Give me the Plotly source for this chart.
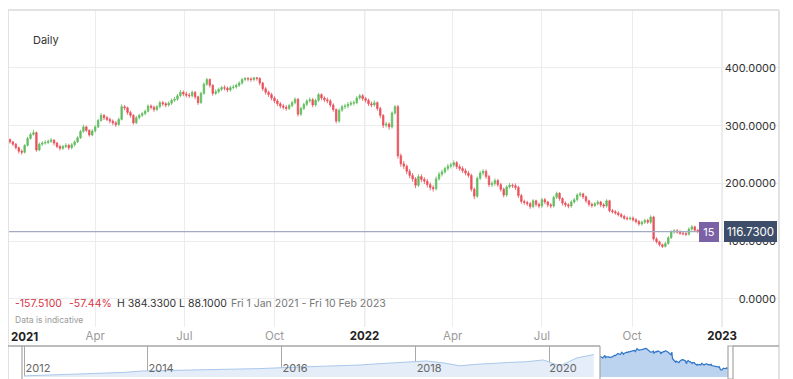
import pandas as pd
import plotly.graph_objects as go

FONT = "Inter"

# ---------------- data ----------------
first_open = 274.24
close = [
    276, 272, 268, 262, 256, 254, 266, 278, 285, 288,
    258, 268, 270, 271, 273, 275, 270, 264, 261, 264,
    266, 262, 267, 272, 279, 290, 298, 292, 284, 291,
    298, 309, 318, 314, 311, 308, 305, 302, 311, 333,
    331, 323, 318, 305, 314, 318, 321, 325, 334, 332,
    328, 333, 340, 338, 336, 339, 344, 346, 352, 358,
    355, 353, 352, 358, 350, 340, 356, 372, 380, 370,
    356, 359, 363, 366, 365, 362, 366, 367, 370, 374,
    380, 382, 381, 380, 383, 382, 374, 364, 358, 354,
    348, 343, 338, 334, 332, 330, 335, 340, 346, 320,
    330, 337, 343, 345, 336, 344, 354, 348, 345, 343,
    336, 328, 308, 327, 333, 334, 337, 339, 340, 348,
    352, 347, 344, 338, 336, 340, 330, 318, 301, 303,
    298, 322, 333, 248, 234, 230, 221, 214, 208, 197,
    212, 207, 204, 198, 193, 191, 208, 216, 220, 226,
    230, 232, 236, 229, 226, 222, 218, 214, 190, 178,
    209, 218, 221, 212, 198, 200, 205, 198, 190, 180,
    194, 197, 196, 193, 179, 169, 167, 165, 160, 170,
    164, 161, 172, 168, 163, 161, 176, 183, 174, 166,
    163, 161, 168, 172, 180, 182, 177, 170, 164, 162,
    165, 168, 163, 161, 170, 153, 151, 149, 146, 143,
    140, 139, 140, 137, 134, 130, 133, 136, 133, 142,
    104, 99, 94, 91, 96, 106, 116, 118, 116, 114,
    113, 112, 121, 125, 119, 116.73,
]
high = [
    279, 278, 274, 270, 264, 259, 268, 281, 288, 293,
    290, 271, 273, 275, 276, 279, 277, 272, 267, 267,
    270, 269, 270, 275, 282, 293, 302, 300, 294, 294,
    301, 312, 322, 320, 317, 314, 311, 308, 314, 337,
    336, 333, 326, 320, 317, 321, 324, 328, 337, 337,
    335, 336, 343, 343, 341, 342, 347, 350, 355, 362,
    361, 359, 357, 361, 360, 352, 359, 375, 383, 382,
    372, 363, 366, 369, 370, 368, 369, 371, 373, 377,
    383, 384.33, 384, 384, 384, 384, 384, 376, 367, 361,
    357, 351, 346, 341, 338, 336, 338, 343, 349, 348,
    333, 340, 346, 349, 348, 347, 357, 356, 351, 349,
    346, 339, 330, 330, 336, 338, 341, 343, 344, 351,
    355, 355, 350, 347, 342, 344, 342, 333, 320, 307,
    306, 325, 336, 336, 252, 239, 233, 225, 218, 211,
    216, 216, 211, 208, 202, 197, 212, 220, 224, 229,
    234, 236, 240, 239, 233, 230, 226, 222, 217, 193,
    212, 222, 225, 224, 215, 204, 209, 208, 201, 193,
    197, 201, 200, 200, 196, 182, 172, 170, 168, 173,
    172, 167, 175, 175, 170, 166, 179, 186, 185, 176,
    169, 166, 171, 175, 183, 185, 184, 179, 172, 167,
    168, 171, 170, 166, 173, 172, 156, 154, 152, 149,
    146, 143, 143, 143, 140, 137, 136, 139, 139, 145,
    144, 107, 101, 96, 99, 109, 119, 121, 121, 119,
    117, 116, 124, 128, 127, 121,
]
low = [
    271, 269, 265, 259, 252, 250, 252, 264, 276, 283,
    255, 256, 265, 267, 268, 270, 266, 261, 257, 258,
    261, 258, 259, 264, 270, 277, 288, 289, 281, 282,
    288, 296, 307, 310, 308, 304, 301, 298, 300, 309,
    327, 319, 314, 302, 303, 311, 315, 318, 323, 328,
    324, 325, 330, 334, 332, 333, 336, 341, 343, 349,
    351, 349, 348, 349, 346, 336, 338, 354, 369, 366,
    352, 353, 356, 360, 361, 358, 359, 363, 364, 367,
    371, 377, 377, 376, 377, 378, 370, 360, 354, 350,
    344, 339, 334, 330, 328, 326, 327, 332, 337, 316,
    317, 327, 334, 340, 332, 333, 341, 344, 341, 339,
    332, 324, 304, 305, 324, 329, 330, 334, 335, 337,
    345, 343, 340, 334, 332, 333, 326, 313, 296, 297,
    293, 295, 319, 243, 229, 225, 216, 209, 203, 192,
    194, 202, 199, 193, 188, 186, 188, 205, 212, 217,
    222, 226, 228, 225, 222, 218, 214, 210, 186, 173,
    175, 206, 214, 208, 194, 194, 196, 194, 186, 176,
    177, 191, 192, 189, 175, 165, 163, 161, 156, 157,
    160, 157, 158, 164, 159, 157, 158, 173, 170, 162,
    159, 157, 158, 165, 169, 177, 173, 166, 160, 158,
    159, 162, 159, 157, 158, 150, 148, 146, 143, 140,
    137, 136, 136, 134, 131, 127, 127, 130, 130, 130,
    101, 96, 91, 88.10, 89, 94, 104, 113, 113, 111,
    110, 109, 110, 118, 116, 114,
]
dates = pd.date_range("2021-01-01", periods=len(close), freq="3D")
opens = [first_open] + close[:-1]

# navigator history (before the selected range)
nav_hist = [15, 22, 30, 38, 48, 55, 62, 80, 84, 88, 90, 94, 100, 108, 112, 121,
            134, 138, 145, 150, 160, 175, 188, 196, 215, 190, 150, 170, 185, 195,
            205, 228, 150, 255, 300]
nav_dates = pd.date_range("2012-03-01", periods=len(nav_hist), freq="3MS")

y_ticks = [0, 100, 200, 300, 400]
x_tick_dates = ["2021-04-01", "2021-07-01", "2021-10-01", "2022-01-01",
                "2022-04-01", "2022-07-01", "2022-10-01", "2023-01-01"]
x_tick_labels = ["Apr", "Jul", "Oct", "2022", "Apr", "Jul", "Oct", "2023"]
nav_tick_dates = ["2012-03-01", "2014-01-01", "2016-01-01", "2018-01-01", "2020-01-01"]
nav_tick_labels = ["2012", "2014", "2016", "2018", "2020"]
period_text = "Fri 1 Jan 2021 - Fri 10 Feb 2023"
countdown_text = "15"

# ---------------- derived stats ----------------
chg = close[-1] - opens[0]
pct = chg / opens[0] * 100
hi = max(high)
lo = min(low)

def fmt_tick(t):
    if t.isdigit():
        return f"<b>{t}</b>"
    return f"<span style='color:#9a9a9a'>{t}</span>"

# page has an 8px body margin; layout expressed in screen pixels
OFF = 8
FW, FH = 793 - OFF, 379 - OFF
W_L, W_R, T, B = 8, 779, 10, 377
def px(x):
    return (x - W_L) / (W_R - W_L)
def py(y):
    return (B - y) / (B - T)

GREEN = "#62bd5f"
RED = "#ea525c"

fig = go.Figure()
fig.add_trace(go.Candlestick(
    x=dates, open=opens, high=high, low=low, close=close,
    increasing=dict(line=dict(color=GREEN, width=0.8), fillcolor=GREEN),
    decreasing=dict(line=dict(color=RED, width=0.8), fillcolor=RED),
    whiskerwidth=0, xaxis="x", yaxis="y", hoverinfo="skip", showlegend=False,
))
fig.add_trace(go.Scatter(
    x=nav_dates, y=nav_hist, mode="lines", fill="tozeroy",
    line=dict(color="#a9c8ec", width=1), fillcolor="#e4edf8",
    xaxis="x2", yaxis="y2", hoverinfo="skip", showlegend=False,
))
fig.add_trace(go.Scatter(
    x=dates, y=close, mode="lines", fill="tozeroy",
    line=dict(color="#2f74c8", width=1.2), fillcolor="#bcd3ef",
    xaxis="x3", yaxis="y2", hoverinfo="skip", showlegend=False,
))

fig.update_layout(
    width=FW, height=FH,
    margin=dict(l=W_L - OFF, r=FW - (W_R - OFF), t=T - OFF, b=FH - (B - OFF), pad=0),
    paper_bgcolor="white", plot_bgcolor="white",
    font=dict(family=FONT, color="#333"),
    showlegend=False,
    xaxis=dict(
        domain=[0, 1], anchor="y", type="date",
        range=["2021-01-02", "2023-02-28"],
        rangeslider=dict(visible=False),
        tickvals=x_tick_dates, ticktext=[fmt_tick(t) for t in x_tick_labels],
        tickfont=dict(size=11.5, color="#222", family=FONT),
        showgrid=True, gridcolor="#ececec", gridwidth=1,
        ticks="", showline=False, zeroline=False,
    ),
    yaxis=dict(
        domain=[py(327), 1], anchor="x", side="right",
        ticklabelposition="inside",
        range=[-48.5, 500.4],
        tickvals=y_ticks, tickformat=".4f",
        tickfont=dict(size=11, color="#333", family=FONT),
        showgrid=True, gridcolor="#ececec", gridwidth=1,
        ticks="", showline=False, zeroline=False,
    ),
    xaxis2=dict(
        domain=[px(22), px(600)], anchor="y2", type="date",
        range=["2012-02-19", "2020-10-05"],
        tickvals=nav_tick_dates, ticktext=nav_tick_labels,
        ticklabelposition="inside", ticklabelshift=14,
        tickfont=dict(size=11, color="#666", family=FONT),
        showgrid=True, gridcolor="#a8a8a8", gridwidth=1,
        ticks="", showline=False, zeroline=False,
    ),
    yaxis2=dict(
        domain=[0, py(346)], anchor="x2", range=[0, 415],
        showgrid=False, showticklabels=False, zeroline=False, ticks="",
    ),
    xaxis3=dict(
        domain=[px(600), px(728)], anchor="y2", type="date",
        range=[dates[0], dates[-1]],
        visible=False,
    ),
)

shapes = []
for d in ["2022-01-01", "2023-01-01"]:
    shapes.append(dict(type="line", xref="x", yref="y domain", x0=d, x1=d, y0=0, y1=1,
                       line=dict(color="#d2d2d2", width=1.2), layer="below"))
shapes.append(dict(type="line", xref="x", yref="y", x0="2021-01-02", x1=dates[-1],
                   y0=close[-1], y1=close[-1], line=dict(color="#a3abc3", width=1.2)))
# frame
FRAME = "#e2e2e2"
shapes.append(dict(type="line", xref="paper", yref="paper", x0=0, x1=0, y0=py(379), y1=1,
                   line=dict(color=FRAME, width=2)))
shapes.append(dict(type="line", xref="paper", yref="paper", x0=0, x1=1, y0=1, y1=1,
                   line=dict(color=FRAME, width=2)))
shapes.append(dict(type="line", xref="paper", yref="paper", x0=1, x1=1, y0=py(379), y1=1,
                   line=dict(color=FRAME, width=2)))
# navigator outline
NAVC = "#a6a6a6"
shapes.append(dict(type="line", xref="paper", yref="paper", x0=0, x1=px(600), y0=py(346), y1=py(346),
                   line=dict(color=NAVC, width=1.5)))
shapes.append(dict(type="line", xref="paper", yref="paper", x0=px(733), x1=1, y0=py(346), y1=py(346),
                   line=dict(color=NAVC, width=1.5)))
shapes.append(dict(type="line", xref="paper", yref="paper", x0=px(600), x1=px(600), y0=py(379), y1=py(346),
                   line=dict(color=NAVC, width=1.2)))
shapes.append(dict(type="rect", xref="paper", yref="paper", x0=px(728), x1=px(733), y0=py(379), y1=py(346),
                   line=dict(color=NAVC, width=1.2), fillcolor="white"))
shapes.append(dict(type="line", xref="paper", yref="paper", x0=px(22), x1=px(22), y0=py(379), y1=py(346),
                   line=dict(color=NAVC, width=1.2)))
fig.update_layout(shapes=shapes)

def note(text, x, y, size, color, xanchor="left", **kw):
    return dict(text=text, xref="paper", yref="paper", x=px(x), y=py(y),
                xanchor=xanchor, yanchor="middle", showarrow=False,
                font=dict(size=size, color=color, family=FONT), **kw)

ann = [
    note("Daily", 31, 40, 11, "#333"),
    note(f"{chg:.4f}", 13, 303, 10.5, "#d9343f"),
    note(f"{pct:.2f}%", 67, 303, 10.5, "#d9343f"),
    note(f"H {hi:.4f}", 115, 303, 10.5, "#333"),
    note(f"L {lo:.4f}", 177, 303, 10.5, "#333"),
    note(period_text, 229, 303, 10.5, "#777"),
    note("Data is indicative", 13, 320, 8.5, "#9a9a9a"),
    note("<b>2021</b>", 24, 337, 11.5, "#222", xanchor="center"),
]
ann.append(dict(text=countdown_text, xref="paper", yref="y", x=px(709), y=close[-1],
                xanchor="center", yanchor="middle", showarrow=False,
                bgcolor="#7b62a6", bordercolor="#7b62a6", borderpad=1,
                width=16, height=16,
                font=dict(size=11, color="white", family=FONT)))
ann.append(dict(text=f"{close[-1]:.4f}", xref="paper", yref="y", x=px(750), y=close[-1],
                xanchor="center", yanchor="middle", showarrow=False,
                bgcolor="#3e4e6a", bordercolor="#3e4e6a", borderpad=1.5,
                width=48, height=16,
                font=dict(size=11.5, color="white", family=FONT)))
fig.update_layout(annotations=ann)

fig.write_html("out.html")
